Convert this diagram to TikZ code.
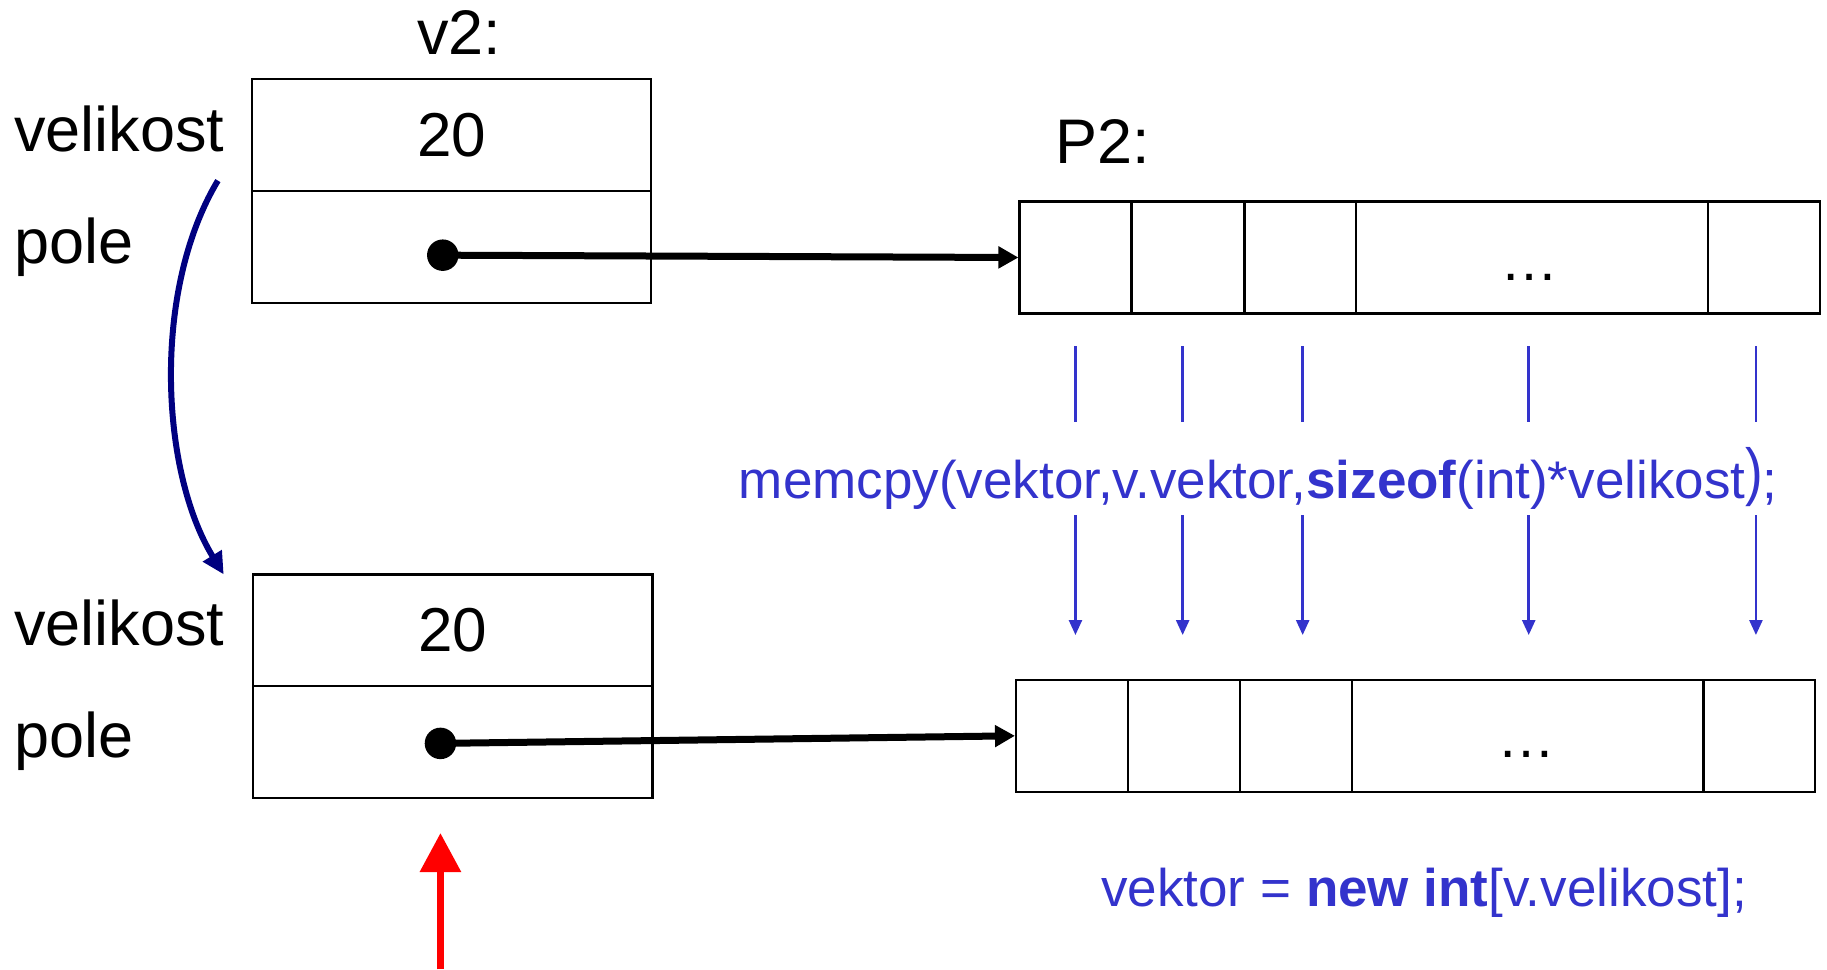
\documentclass[tikz,border=0pt]{standalone}
\usepackage{fontspec}
\usepackage{graphicx}
\setmainfont{Liberation Sans}
\usetikzlibrary{arrows.meta}
\definecolor{codeblue}{RGB}{51,51,204}
\definecolor{navyarrow}{RGB}{0,0,128}
\definecolor{redarrow}{RGB}{255,0,0}
\def\u{1.1652pt}
\begin{document}
\begin{tikzpicture}[x=1.1652pt,y=-1.1652pt,
  cell/.style={draw, line width=2.2pt, inner sep=0pt, font=\fontsize{62}{62}\selectfont},
  fieldcell/.style={cell, minimum width=343*\u, minimum height=96*\u},
  arrcell/.style={cell, minimum height=96*\u},
  lbl/.style={inner sep=0pt, font=\fontsize{63}{63}\selectfont},
  dots/.style={inner sep=0pt, anchor=base, font=\fontsize{58}{58}\selectfont},
  code/.style={inner sep=0pt, text=codeblue, font=\fontsize{53}{53}\selectfont},
  dotnode/.style={circle, fill=black, inner sep=0pt, minimum size=27*\u},
  ptr/.style={line width=7pt, -{Triangle[length=20pt,width=21pt]}},
  bline/.style={draw=codeblue, line width=2.5pt},
  barrow/.style={draw=codeblue, line width=2.5pt, -{Triangle[length=15pt,width=13pt]}},
  navyarr/.style={draw=navyarrow, line width=6pt, -{Triangle[length=22pt,width=21pt]}},
  redarr/.style={draw=redarrow, line width=6.5pt, -{Triangle[length=39pt,width=40pt]}}
]
\useasboundingbox (0,0) rectangle (1568,832);

% top structure v2
\node[lbl, anchor=base] (v2lbl) at (394,47) {v2:};
\node[fieldcell] (tsize) at (387.5,116) {20};
\node[fieldcell] (tpole) at (387.5,212) {};
\node[lbl, anchor=base west] (tvel) at (12,130) {velikost};
\node[lbl, anchor=base west] (tpl) at (12,226) {pole};
\node[dotnode] (tdot) at (380,219) {};

% top array P2
\node[lbl, anchor=base west] (p2lbl) at (906,140) {P2:};
\node[arrcell, minimum width=96*\u] (ta1) at (923,221) {};
\node[arrcell, minimum width=97*\u] (ta2) at (1019.5,221) {};
\node[arrcell, minimum width=96*\u] (ta3) at (1116,221) {};
\node[arrcell, minimum width=302*\u] (ta4) at (1315,221) {};
\node[arrcell, minimum width=96*\u] (ta5) at (1514,221) {};
\node[dots] (tdots) at (1313,241) {…};
\draw[ptr] (tdot.center) -- (ta1.west);

% bottom structure
\node[fieldcell] (bsize) at (388.5,541) {20};
\node[fieldcell] (bpole) at (388.5,637) {};
\node[lbl, anchor=base west] (bvel) at (12,554) {velikost};
\node[lbl, anchor=base west] (bpl) at (12,650) {pole};
\node[dotnode] (bdot) at (378,638) {};

% bottom array
\node[arrcell, minimum width=96*\u] (ba1) at (920,631.5) {};
\node[arrcell, minimum width=96*\u] (ba2) at (1016,631.5) {};
\node[arrcell, minimum width=96*\u] (ba3) at (1112,631.5) {};
\node[arrcell, minimum width=302*\u] (ba4) at (1311,631.5) {};
\node[arrcell, minimum width=96*\u] (ba5) at (1510,631.5) {};
\node[dots] (bdots) at (1310,650) {…};
\draw[ptr] (bdot.center) -- (ba1.west);

% copy lines
\foreach \x/\n in {923/1,1015/2,1118/3,1312/4,1507/5}{
  \coordinate (ua\n) at (\x,297);
  \coordinate (ub\n) at (\x,362);
  \coordinate (la\n) at (\x,442);
  \coordinate (lb\n) at (\x,545);
  \draw[bline] (ua\n) -- (ub\n);
  \draw[barrow] (la\n) -- (lb\n);
}

\node[code, anchor=base west] (memcpy) at (634,428) {memcpy(vektor,v.vektor,\textbf{sizeof}(int)*velikost\raisebox{5pt}{\scalebox{1}[1.2]{)}};};
\node[code, anchor=base west] (newtxt) at (945,778) {vektor = \textbf{new int}[v.velikost];};

% navy curved arrow
\coordinate (cs) at (187,155);
\coordinate (ce) at (192,493);
\draw[navyarr] (cs) .. controls (130,250) and (138,405) .. (ce);

% red arrow
\coordinate (rb) at (378,832);
\coordinate (rt) at (378,715);
\draw[redarr] (rb) -- (rt);
\end{tikzpicture}
\end{document}
